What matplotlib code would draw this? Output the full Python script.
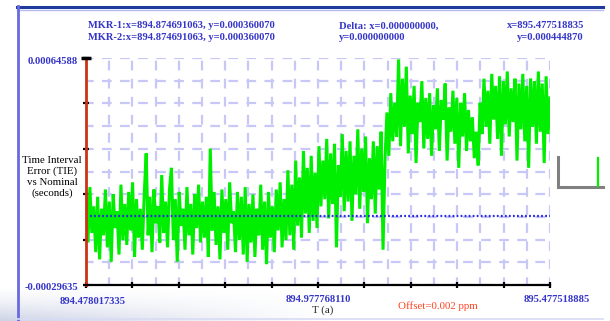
import matplotlib
matplotlib.use('Agg')
import matplotlib.pyplot as plt
from matplotlib.lines import Line2D
import numpy as np

plt.rcParams.update({
    'font.family': ['Liberation Serif', 'DejaVu Serif'],
    'font.size': 7.5,
    'lines.scale_dashes': False,
})

W, H = 610, 321

# axis range
t_start = 894.478017335
t_mid = 894.977768110
t_end = 895.477518885
y_min = -0.00029635
y_max = 0.00064588
ref_level = -0.00001   # blue dotted reference line

# TIE samples, in units of 1e-4 s
tie_e4 = [
    0.9, -1.2, 1.1, -0.8, 0.3, -1.6, 0.7, -1.9, 0.2, -0.9, 1.0, -1.4, 0.5, -2.0, 0.8, -0.6, 0.1, -1.7, 1.2, -1.1,
    0.4, -1.3, 0.9, -0.7, 1.3, -1.8, 0.6, -1.0, 0.2, -1.5, 0.8, 2.5, -0.9, 0.7, -1.6, 1.0, -0.4, 0.3, -1.2, 1.6,
    -0.8, 0.5, -1.4, 1.0, 1.9, -1.1, 0.6, -2.0, 0.9, -0.5, 0.2, -1.5, 1.1, -0.9, 0.4, -1.7, 0.8, -0.6, 1.2, -1.2,
    0.5, -1.0, 0.7, -1.8, 2.7, -0.7, 0.9, -1.3, 0.3, -1.9, 1.0, -0.8, 0.6, -1.5, 1.3, -0.4, 0.1, -1.6, 0.9, -1.1,
    0.7, -1.7, 1.1, -2.0, 0.4, -1.2, 0.8, -1.8, 0.2, -0.9, 1.2, -1.5, 0.5, -2.1, 0.9, -1.0, 0.3, -1.6, 1.0, -0.7,
    1.3, -1.4, 0.6, -1.1, 1.8, -0.9, 1.2, -1.5, 2.2, -0.5, 1.5, -1.0, 2.6, 0.0, 1.9, -0.8, 2.4, -0.3, 1.7, -0.6,
    2.8, 0.3, 2.2, 0.6, 3.1, -0.2, 2.5, 0.4, 2.9, -1.4, 2.0, 0.7, 3.3, 0.1, 2.6, 0.5, 3.0, -0.3, 2.4, 0.8,
    3.5, 0.2, 2.7, 0.9, 3.2, -0.4, 2.3, 0.6, 3.0, 0.0, 2.8, 1.0, 3.4, -1.5, 2.2, 4.2, 2.4, 5.0, 3.0, 4.6,
    3.2, 6.4, 2.8, 5.6, 3.6, 6.1, 2.5, 4.9, 3.3, 5.3, 2.1, 4.6, 3.8, 5.5, 2.7, 4.8, 3.1, 5.0, 2.4, 4.5,
    3.5, 5.2, 2.6, 4.7, 3.9, 5.4, 2.2, 4.4, 3.4, 5.1, 2.9, 4.8, 1.9, 4.6, 3.2, 5.0, 2.6, 4.3, 3.0, 4.0,
    2.3, 3.4, 2.0, 4.6, 3.3, 5.6, 3.6, 5.1, 2.9, 5.8, 3.9, 5.3, 3.1, 5.7, 2.4, 5.5, 3.7, 5.9, 3.2, 5.2,
    3.8, 5.6, 2.2, 5.4, 3.5, 5.8, 3.0, 5.3, 1.9, 5.6, 3.6, 5.5, 2.9, 5.9, 3.4, 5.4, 2.1, 5.7, 3.3, 4.8,
]
tie = np.array(tie_e4) * 1e-4
t = np.linspace(t_start, t_end, len(tie))

marker_lines = ["MKR-1:x=894.874691063, y=0.000360070",
                "MKR-2:x=894.874691063, y=0.000360070"]
delta_lines = ["Delta: x=0.000000000,", "y=0.000000000"]
cursor_lines = ["x=895.477518835", "y=0.000444870"]
y_label = "Time Interval\nError (TIE)\nvs Nominal\n(seconds)"
x_label = "T (a)"
offset_text = "Offset=0.002 ppm"

BLUE_TXT = '#3535c8'
GRID = '#c8c8f6'


def px(x, y):
    return x / W, 1 - y / H


fig = plt.figure(figsize=(W / 100, H / 100), dpi=100)

# faint bottom-left shading
bg = fig.add_axes([0, 0, 1, 1], zorder=-10)
bg.axis('off')
yy = np.clip((np.arange(H) - 285) / 36.0, 0, 1)[:, None]
xx = np.clip(1 - np.arange(W) / 330.0, 0, 1)[None, :]
img = np.zeros((H, W, 4))
img[..., 0], img[..., 1], img[..., 2] = 0.55, 0.6, 0.78
img[..., 3] = 0.45 * yy ** 1.5 * xx
bg.imshow(img, extent=(0, 1, 0, 1), aspect='auto')

# panel frame
fig.add_artist(Line2D([17 / W, 603 / W], [1 - 7 / H] * 2, color='#1e3a9c', lw=2.2))
fig.add_artist(Line2D([17 / W, 603 / W], [1 - 9.5 / H] * 2, color='#b4bcf0', lw=1.0))
fig.add_artist(Line2D([18 / W] * 2, [0, 1 - 6 / H], color='#6a6ae0', lw=2.0))
fig.add_artist(Line2D([17 / W, 603 / W], [1 - 319 / H] * 2, color='#d8dcf4', lw=1.2))

ax = fig.add_axes([86 / W, 1 - 285 / H, 464 / W, 227 / H])
ax.set_xlim(t_start, t_end)
ax.set_ylim(y_min, y_max)

ax.plot(t, tie, color='#00ee00', lw=2.2, zorder=3, solid_joinstyle='miter')
ax.axhline(ref_level, color='#2a2ae0', lw=1.6, linestyle=(0, (1.3, 1.6)), zorder=3.5)

ax.set_xticks(np.linspace(t_start, t_end, 11))
ax.set_xticks(np.linspace(t_start, t_end, 21), minor=True)
ax.set_yticks(np.linspace(y_min, y_max, 6))
ax.set_yticks(np.linspace(y_min, y_max, 11), minor=True)
ax.set_xticklabels([])
ax.set_yticklabels([])
ax.tick_params(which='major', direction='inout', length=5, width=1.6, color='black')
ax.tick_params(which='minor', length=0)
ax.set_axisbelow(False)
ax.grid(which='both', color=GRID, lw=1.6, linestyle=(1.5, (7.0, 6.0)))

for side in ('top', 'right'):
    ax.spines[side].set_visible(False)
ax.spines['left'].set_color('#cc3311')
ax.spines['left'].set_linewidth(2.0)
ax.spines['bottom'].set_color('black')
ax.spines['bottom'].set_linewidth(1.6)
for side in ('left', 'bottom'):
    ax.spines[side].set_zorder(5)
ax.plot([0], [1], marker='_', ms=7, mew=2.5, color='black', transform=ax.transAxes, clip_on=False, zorder=6)

# header texts
for i, s in enumerate(marker_lines):
    fig.text(*px(88, 26 + 12 * i), s, ha='left', va='center', color=BLUE_TXT, fontweight='bold', fontsize=7.6)
for i, s in enumerate(delta_lines):
    fig.text(*px(339, 26 + 12 * i), s, ha='left', va='center', color=BLUE_TXT, fontweight='bold', fontsize=7.6)
for i, s in enumerate(cursor_lines):
    fig.text(*px(584, 26 + 12 * i), s, ha='right', va='center', color=BLUE_TXT, fontweight='bold', fontsize=7.6)

# axis end labels
fig.text(*px(78, 61), f"{y_max:.8f}", ha='right', va='center', color=BLUE_TXT, fontweight='bold', fontsize=7.6)
fig.text(*px(78, 288), f"{y_min:.8f}", ha='right', va='center', color=BLUE_TXT, fontweight='bold', fontsize=7.6)
fig.text(*px(93, 301), f"{t_start:.9f}", ha='center', va='center', color=BLUE_TXT, fontweight='bold', fontsize=7.6)
fig.text(*px(318, 300), f"{t_mid:.9f}", ha='center', va='center', color=BLUE_TXT, fontweight='bold', fontsize=7.6)
fig.text(*px(557, 300), f"{t_end:.9f}", ha='center', va='center', color=BLUE_TXT, fontweight='bold', fontsize=7.6)

fig.text(*px(52, 177), y_label, ha='center', va='center', color='black', fontsize=7.8, linespacing=1.25)
fig.text(*px(323, 310), x_label, ha='center', va='center', color='#222222', fontsize=7.8)
fig.text(*px(438, 306), offset_text, ha='center', va='center', color='#ff4422', fontsize=7.8)

# small legend glyph at right
fig.add_artist(Line2D([558 / W, 558 / W, 603 / W], [1 - 157 / H, 1 - 187 / H, 1 - 187 / H],
                      color='#808080', lw=2.2, solid_joinstyle='miter'))
fig.add_artist(Line2D([598 / W] * 2, [1 - 158 / H, 1 - 186 / H], color='#00ee00', lw=1.6))

fig.savefig('out.png', dpi=100)
